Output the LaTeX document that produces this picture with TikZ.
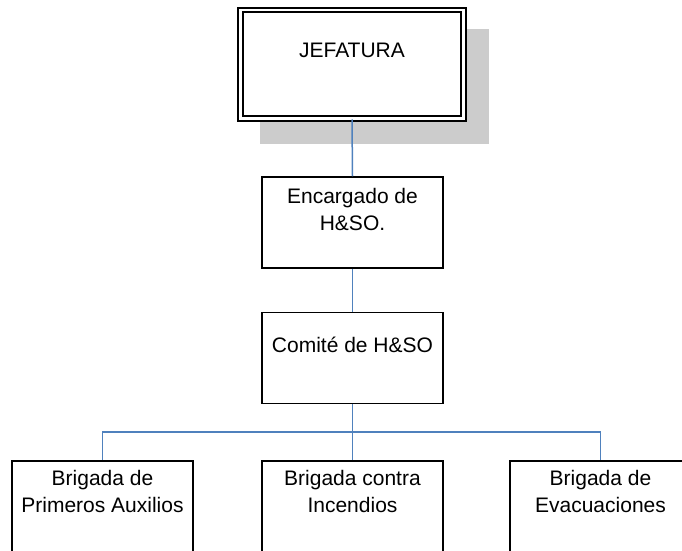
\documentclass[tikz,border=0pt]{standalone}
\usepackage{fontspec}
\setmainfont{Liberation Sans}
\usepackage{tikz}
\definecolor{linkblue}{RGB}{79,129,189}

\begin{document}
\begin{tikzpicture}[
	x=1pt,
	y=1pt,
	font=\fontsize{21}{26.5}\selectfont,
	box node/.style={rectangle,draw,line width=1.5pt,minimum width=181pt,minimum height=91pt,inner sep=0pt},
	top node/.style={rectangle,draw,line width=2pt,double,double distance=2.6pt,minimum width=223pt,minimum height=108.5pt,inner sep=0pt},
	txt node/.style={align=center,inner sep=0pt},
	link/.style={draw=linkblue,line width=1.5pt}
]
\useasboundingbox (0,0) rectangle (682,550);
\clip (0,0) rectangle (682,550);

% sombra
\fill[black!20] (260,521) rectangle (489,406);

\node[top node,fill=white] (jef) at (352,485.75) {};
\node[box node] (enc) at (352.5,327.5) {};
\node[box node] (com) at (352.5,192) {};
\node[box node] (aux) at (102.5,43.5) {};
\node[box node] (inc) at (352.5,43.5) {};
\node[box node] (eva) at (600.5,43.5) {};
\coordinate (bus) at (352.5,118);

\node[txt node] (jef txt) at (352,500) {JEFATURA};
\node[txt node] (enc txt) at (352.5,340.5) {Encargado de\\H\&SO.};
\node[txt node] (com txt) at (352.5,205) {Comité de H\&SO};
\node[txt node] (aux txt) at (102.5,58.5) {Brigada de\\Primeros Auxilios};
\node[txt node] (inc txt) at (352.5,58.5) {Brigada contra\\Incendios};
\node[txt node] (eva txt) at (600.5,58.5) {Brigada de\\Evacuaciones};

\draw[link] (jef.south) -- (enc.north);
\draw[link] (enc.south) -- (com.north);
\draw[link] (com.south) -- (bus) -- (inc.north);
\draw[link] (bus) -| (aux.north);
\draw[link] (bus) -| (eva.north);
\end{tikzpicture}
\end{document}
